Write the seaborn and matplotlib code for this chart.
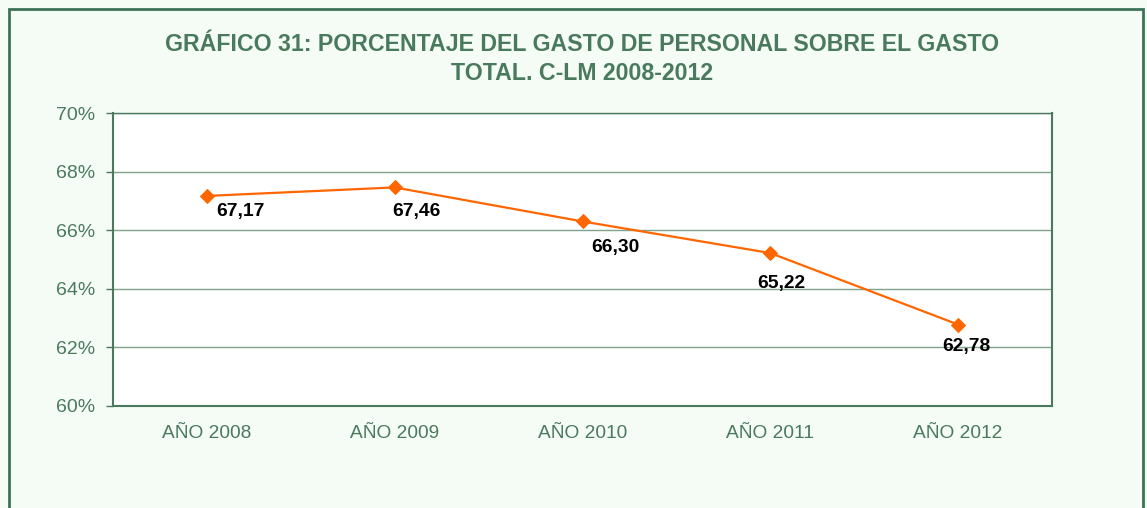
import numpy as np
import pandas as pd
import seaborn as sns
import matplotlib.pyplot as plt
from matplotlib.patches import Rectangle
from matplotlib.ticker import FixedLocator, FuncFormatter

# datos del gráfico
anios = ["AÑO 2008", "AÑO 2009", "AÑO 2010", "AÑO 2011", "AÑO 2012"]
porcentaje = [67.17, 67.46, 66.30, 65.22, 62.78]

# desplazamiento de las etiquetas (en puntos)
desp_x = [24, 16, 24, 8, 6]
desp_y = [-11, -17, -19, -22, -16]

verde = "#4a7a5e"
naranja = "#ff6600"

sns.set_style("white")
plt.rcParams["font.family"] = ["Liberation Sans", "DejaVu Sans"]

df = pd.DataFrame({"anio": anios, "pct": porcentaje})

fig = plt.figure(figsize=(11.47, 5.08), dpi=100, facecolor="#f5fbf5")
ax = fig.add_axes([113/1147, 1-406/508, (1052-113)/1147, (406-113)/508])
ax.set_facecolor("white")

sns.lineplot(data=df, x="anio", y="pct", ax=ax, color=naranja, marker="D",
             markersize=7, markeredgecolor=naranja, linewidth=1.6, sort=False)

ax.set_xlim(-0.5, len(anios) - 0.5)
ax.set_ylim(60, 70)
ax.set_yticks(np.arange(60, 71, 2))
ax.yaxis.set_major_formatter(FuncFormatter(lambda v, p: f"{v:.0f}%"))
ax.xaxis.set_minor_locator(FixedLocator(np.arange(-0.5, len(anios), 1)))
ax.tick_params(axis="x", which="major", length=0, pad=14, labelsize=13.8, labelcolor=verde)
ax.tick_params(axis="x", which="minor", length=5, width=1, color=verde, direction="out")
ax.tick_params(axis="y", length=5, width=1, color=verde, direction="out",
               labelsize=14, labelcolor=verde, pad=8, left=True)
ax.set_xlabel("")
ax.set_ylabel("")
ax.grid(axis="y", color="#7fa38d", linewidth=1)
for s in ax.spines.values():
    s.set_color(verde)
    s.set_linewidth(1.5)
ax.spines["top"].set_linewidth(1)

for i, v in enumerate(porcentaje):
    ax.annotate(f"{v:.2f}".replace(".", ","), (i, v), xytext=(desp_x[i], desp_y[i]),
                textcoords="offset points", ha="center", va="center",
                fontsize=13.9, fontweight="bold", color="black")

fig.text(0.5 * (113 + 1052) / 1147, 1 - 59/508,
         "GRÁFICO 31: PORCENTAJE DEL GASTO DE PERSONAL SOBRE EL GASTO\nTOTAL. C-LM 2008-2012",
         ha="center", va="center", fontsize=16.7, fontweight="bold", color=verde,
         linespacing=1.3)

fig.patches.append(Rectangle((9/1147, -0.05), (1143-9)/1147, 1 - 9/508 + 0.05,
                             transform=fig.transFigure, fill=False,
                             edgecolor="#3d7356", linewidth=2))

fig.savefig("out.png", dpi=100, facecolor=fig.get_facecolor())
